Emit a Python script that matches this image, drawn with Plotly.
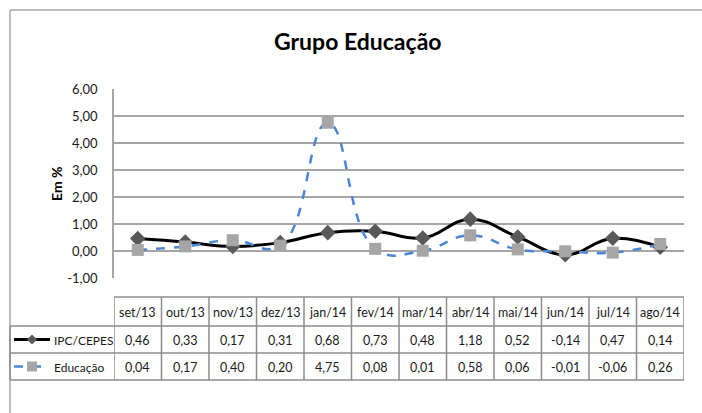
import plotly.graph_objects as go

categories = ["set/13", "out/13", "nov/13", "dez/13", "jan/14", "fev/14",
              "mar/14", "abr/14", "mai/14", "jun/14", "jul/14", "ago/14"]
ipc_cepes = [0.46, 0.33, 0.17, 0.31, 0.68, 0.73, 0.48, 1.18, 0.52, -0.14, 0.47, 0.14]
educacao = [0.04, 0.17, 0.40, 0.20, 4.75, 0.08, 0.01, 0.58, 0.06, -0.01, -0.06, 0.26]
y_ticks = [-1, 0, 1, 2, 3, 4, 5, 6]

W, H = 702, 413
L, R, T, B = 114, 684, 89, 278
FONT = "Lato, Carlito, Calibri, sans-serif"
GRID = "#A6A6A6"


def px(p):
    return (p - L) / (R - L)


def py(p):
    return (B - p) / (B - T)


def fmt(v):
    return f"{v:.2f}".replace(".", ",")


fig = go.Figure()
fig.add_trace(go.Scatter(
    x=categories, y=ipc_cepes, name="IPC/CEPES", mode="lines+markers",
    line=dict(color="#000000", width=3, shape="spline", smoothing=1.2),
    marker=dict(symbol="diamond", size=12, color="#595959"),
    cliponaxis=False))
fig.add_trace(go.Scatter(
    x=categories, y=educacao, name="Educação", mode="lines+markers",
    line=dict(color="#4A86D8", width=2.5, dash="dash", shape="spline", smoothing=1.3),
    marker=dict(symbol="square", size=12, color="#A6A6A6"),
    cliponaxis=False))

shapes = []
annotations = []

# outer chart border
shapes.append(dict(type="line", xref="paper", yref="paper", x0=px(10), x1=px(W + 5),
                   y0=py(10), y1=py(10), line=dict(color=GRID, width=1.5)))
shapes.append(dict(type="line", xref="paper", yref="paper", x0=px(10), x1=px(10),
                   y0=py(10), y1=py(H + 5), line=dict(color=GRID, width=1.5)))

# table
rows = [297, 326, 353, 380]
tcol = "#8C8C8C"
for i, r in enumerate(rows):
    x0 = L if i == 0 else 10
    shapes.append(dict(type="line", xref="paper", yref="paper", x0=px(x0), x1=px(R),
                       y0=py(r), y1=py(r), line=dict(color=tcol, width=1.5)))
n = len(categories)
for k in range(n + 1):
    shapes.append(dict(type="line", xref="x", yref="paper", x0=k - 0.5, x1=k - 0.5,
                       y0=py(rows[0]), y1=py(rows[3]), line=dict(color=tcol, width=1.5)))
shapes.append(dict(type="line", xref="paper", yref="paper", x0=px(10), x1=px(10),
                   y0=py(rows[1]), y1=py(rows[3]), line=dict(color=tcol, width=1.5)))

tf = dict(family=FONT, size=12.5, color="#1a1a1a")
lf = dict(family=FONT, size=12, color="#1a1a1a")
for k, c in enumerate(categories):
    annotations.append(dict(x=k, y=py((rows[0] + rows[1]) / 2 + 1), xref="x", yref="paper",
                            xanchor="center", yanchor="middle",
                            text=c, showarrow=False, font=tf))
    annotations.append(dict(x=k, y=py((rows[1] + rows[2]) / 2 + 1), xref="x", yref="paper",
                            xanchor="center", yanchor="middle",
                            text=fmt(ipc_cepes[k]), showarrow=False, font=tf))
    annotations.append(dict(x=k, y=py((rows[2] + rows[3]) / 2 + 1), xref="x", yref="paper",
                            xanchor="center", yanchor="middle",
                            text=fmt(educacao[k]), showarrow=False, font=tf))

# legend keys in table
y1 = (rows[1] + rows[2]) / 2
y2 = (rows[2] + rows[3]) / 2
shapes.append(dict(type="line", xref="paper", yref="paper", x0=px(14), x1=px(50),
                   y0=py(y1), y1=py(y1), line=dict(color="#000000", width=3)))
d = 5
shapes.append(dict(type="path", xref="paper", yref="paper",
                   path=f"M {px(32)} {py(y1 - d)} L {px(32 + d)} {py(y1)} L {px(32)} {py(y1 + d)} L {px(32 - d)} {py(y1)} Z",
                   fillcolor="#595959", line=dict(color="#595959", width=0)))
shapes.append(dict(type="line", xref="paper", yref="paper", x0=px(14), x1=px(50),
                   y0=py(y2), y1=py(y2), line=dict(color="#4A86D8", width=2.5, dash="dash")))
s = 5
shapes.append(dict(type="rect", xref="paper", yref="paper", x0=px(32 - s), x1=px(32 + s),
                   y0=py(y2 - s), y1=py(y2 + s), fillcolor="#A6A6A6",
                   line=dict(color="#A6A6A6", width=0)))
annotations.append(dict(x=px(52), y=py(y1 + 1), xref="paper", yref="paper", xanchor="left",
                        yanchor="middle", align="left", text="IPC/CEPES",
                        showarrow=False, font=lf))
annotations.append(dict(x=px(52), y=py(y2 + 1), xref="paper", yref="paper", xanchor="left",
                        yanchor="middle", align="left", text="Educação",
                        showarrow=False, font=lf))

# title
annotations.append(dict(x=px(358), y=py(41), xref="paper", yref="paper",
                        xanchor="center", yanchor="middle",
                        text="<b>Grupo Educação</b>", showarrow=False,
                        font=dict(family=FONT, size=23, color="#000000")))
# y axis title
annotations.append(dict(x=px(56), y=py(184), xref="paper", yref="paper", textangle=-90,
                        xanchor="center", yanchor="middle",
                        text="<b>Em %</b>", showarrow=False,
                        font=dict(family=FONT, size=14, color="#000000")))

fig.update_layout(
    width=W, height=H,
    margin=dict(l=L, r=W - R, t=T, b=H - B, pad=0),
    paper_bgcolor="white", plot_bgcolor="white",
    showlegend=False,
    shapes=shapes, annotations=annotations,
    font=dict(family=FONT, size=13, color="#1a1a1a"),
    xaxis=dict(type="category", range=[-0.5, n - 0.5], showticklabels=False,
               showgrid=False, zeroline=False, showline=False, fixedrange=True),
    yaxis=dict(range=[-1, 6], tickvals=y_ticks, ticktext=[fmt(v) for v in y_ticks],
               showgrid=True, gridcolor=GRID, gridwidth=1.5, zeroline=False,
               showline=True, linecolor=GRID, linewidth=1.5, ticks="",
               ticklabelstandoff=12, tickfont=dict(family=FONT, size=13, color="#1a1a1a"),
               fixedrange=True),
)

fig.write_html("out.html", config={"displayModeBar": False},
               post_script="document.body.style.margin='0';document.body.style.overflow='hidden';")
